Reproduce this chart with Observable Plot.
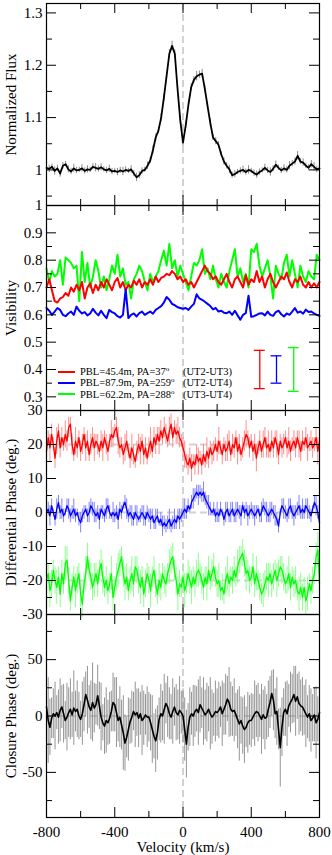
<!DOCTYPE html>
<html><head><meta charset="utf-8">
<script src="https://cdn.jsdelivr.net/npm/d3@7"></script>
<script src="https://cdn.jsdelivr.net/npm/@observablehq/plot@0.6"></script>
<style>
body{margin:0;background:#fff;}
#chart{position:relative;width:332px;height:855px;font-family:"Liberation Serif","Times New Roman",serif;}
#chart svg{display:block;overflow:visible;}
.legend{position:absolute;left:58px;top:366px;font-size:10.5px;color:#000;}
.legend .row{display:flex;align-items:center;height:11.3px;white-space:nowrap;}
.legend .sw{display:inline-block;width:17px;height:2px;margin-right:5px;}
.legend .a{display:inline-block;width:103px;}
.legend sup{font-size:7px;vertical-align:4px;line-height:0;}
</style></head><body><div id="chart"></div><script>
// ---------- data ----------
const fluxVel = d3.range(-800, 801, 16);
const flux = [
1.004,1.002,1.006,0.998,1.003,0.993,1.008,1.011,1.001,0.997,
1.003,0.999,1.000,1.003,0.998,1.001,1.000,1.006,1.004,1.002,
1.005,1.001,0.999,1.002,0.997,0.998,0.996,0.999,0.997,1.000,
0.998,1.001,0.993,0.986,0.990,0.998,1.000,1.008,1.018,1.038,
1.062,1.075,1.100,1.138,1.180,1.222,1.237,1.222,1.155,1.095,
1.052,1.085,1.125,1.158,1.172,1.179,1.182,1.184,1.155,1.122,
1.090,1.062,1.055,1.048,1.030,1.016,1.008,1.001,0.990,0.992,
0.996,0.998,1.000,0.996,1.000,0.998,0.994,0.991,0.996,0.999,
1.004,0.999,0.996,1.002,1.010,1.004,0.999,1.003,1.000,1.008,
1.012,1.016,1.027,1.016,1.014,1.008,1.004,1.011,1.006,1.001,
1.003];
const fluxErr = [
0.006,0.007,0.005,0.008,0.006,0.007,0.006,0.005,0.007,0.006,
0.008,0.006,0.005,0.007,0.006,0.007,0.005,0.006,0.008,0.006,
0.007,0.005,0.006,0.007,0.006,0.005,0.007,0.006,0.008,0.006,
0.005,0.007,0.006,0.008,0.007,0.006,0.005,0.007,0.006,0.008,
0.007,0.006,0.008,0.007,0.006,0.008,0.009,0.007,0.006,0.008,
0.007,0.006,0.008,0.007,0.006,0.009,0.007,0.008,0.006,0.007,
0.008,0.006,0.007,0.006,0.005,0.007,0.006,0.008,0.006,0.007,
0.005,0.006,0.007,0.006,0.008,0.005,0.006,0.007,0.006,0.005,
0.007,0.006,0.008,0.006,0.007,0.005,0.006,0.007,0.006,0.008,
0.006,0.007,0.008,0.006,0.007,0.005,0.006,0.007,0.008,0.006,
0.007];

const visVel = d3.range(-800, 801, 16);
const visR = [
0.70,0.73,0.69,0.65,0.645,0.66,0.665,0.68,0.67,0.70,
0.685,0.71,0.69,0.72,0.66,0.70,0.715,0.68,0.71,0.69,
0.72,0.70,0.73,0.71,0.69,0.72,0.735,0.70,0.72,0.69,
0.71,0.70,0.725,0.71,0.73,0.70,0.72,0.71,0.73,0.71,
0.74,0.72,0.735,0.74,0.75,0.745,0.76,0.75,0.73,0.74,
0.72,0.73,0.71,0.72,0.70,0.72,0.74,0.76,0.78,0.76,
0.75,0.73,0.74,0.72,0.71,0.73,0.75,0.72,0.70,0.73,
0.74,0.72,0.70,0.745,0.71,0.73,0.72,0.76,0.72,0.74,
0.70,0.73,0.75,0.72,0.70,0.72,0.74,0.73,0.755,0.72,
0.70,0.73,0.72,0.74,0.71,0.70,0.72,0.70,0.715,0.70,
0.72];
const visB = [
0.625,0.615,0.600,0.612,0.625,0.618,0.600,0.595,0.605,0.612,
0.600,0.630,0.615,0.605,0.610,0.598,0.605,0.622,0.608,0.598,
0.615,0.600,0.588,0.618,0.610,0.605,0.595,0.590,0.600,0.693,
0.588,0.600,0.605,0.594,0.606,0.612,0.600,0.606,0.612,0.604,
0.618,0.625,0.632,0.645,0.665,0.655,0.640,0.635,0.628,0.625,
0.622,0.625,0.618,0.630,0.640,0.675,0.660,0.655,0.648,0.640,
0.632,0.620,0.625,0.612,0.615,0.608,0.606,0.612,0.600,0.615,
0.598,0.582,0.600,0.606,0.670,0.593,0.595,0.600,0.605,0.606,
0.598,0.612,0.600,0.596,0.610,0.615,0.602,0.594,0.605,0.600,
0.612,0.625,0.608,0.612,0.604,0.619,0.610,0.612,0.605,0.600,
0.596];
const visG = [
0.77,0.72,0.76,0.74,0.75,0.80,0.71,0.81,0.80,0.79,
0.77,0.78,0.65,0.83,0.72,0.79,0.70,0.74,0.80,0.76,
0.70,0.74,0.69,0.73,0.78,0.75,0.82,0.74,0.77,0.71,
0.72,0.66,0.73,0.75,0.78,0.76,0.72,0.69,0.75,0.72,
0.74,0.76,0.80,0.835,0.78,0.86,0.77,0.80,0.74,0.78,
0.75,0.72,0.69,0.74,0.79,0.78,0.80,0.84,0.75,0.77,
0.73,0.78,0.73,0.70,0.75,0.72,0.70,0.76,0.80,0.84,
0.74,0.77,0.72,0.75,0.70,0.84,0.83,0.86,0.78,0.74,
0.77,0.80,0.74,0.66,0.78,0.75,0.73,0.79,0.82,0.74,
0.80,0.75,0.70,0.78,0.74,0.72,0.76,0.74,0.73,0.82,
0.80];
const errSampleV = [450, 548, 649];
const errSampleHalf = [0.07, 0.05, 0.08];
const errSampleCenter = 0.40;

const phaseVel = d3.range(-800, 801, 10);
const dPhiR = [
18,22,19,23,20,16,21,24,19,22, 20,23,21,25,26,20,17,21,19,22,
18,20,23,19,21,17,20,22,19,21, 20,18,21,19,22,20,18,21,23,22,
24,25,21,19,20,17,19,21,18,16, 19,17,15,18,20,18,21,17,19,16,
19,21,18,22,20,23,21,24,22,25, 23,21,24,26,22,25,23,24,22,21,
19,17,15,14,16,13,15,14,17,15, 16,14,17,15,18,16,19,17,18,20,
18,21,19,17,20,18,19,21,17,20, 19,22,18,20,17,19,21,23,22,19,
21,18,20,16,19,21,18,20,22,19, 20,18,21,19,22,20,17,21,19,20,
22,19,21,18,20,21,19,22,20,18, 21,20,22,19,20,21,19,20,22,18,21];
const dPhiB = [
0,1,-1,2,0,-2,1,3,0,1, -1,0,2,1,-1,0,1,-1,0,-2,
-3,-1,0,1,-1,0,2,1,0,-1, 0,-2,1,0,-1,1,2,0,-1,0,
-1,0,-2,1,0,2,3,1,-1,0, -1,-2,0,-1,-2,-1,0,-1,-2,0,
-1,-2,-1,-3,-2,-1,-3,-2,-4,-3, -4,-3,-2,-4,-3,-2,-3,-1,-2,-1,
0,1,0,2,1,3,4,5,6,5, 6,5,6,4,3,2,1,0,1,-1,
0,-1,1,0,-2,0,1,-1,0,1, -1,0,1,0,-1,2,0,1,-1,0,
1,0,-1,0,1,-1,0,2,1,0, -1,0,1,0,-1,-2,-4,0,2,1,
0,-1,1,2,0,-1,0,1,2,0, 1,0,2,1,0,-1,1,3,2,0,-3];
const dPhiG = [
-20,-18,-23,-21,-17,-20,-22,-19,-24,-18, -21,-15,-14,-20,-26,-22,-19,-23,-20,-18,
-24,-27,-21,-18,-13,-17,-19,-22,-20,-18, -21,-17,-15,-19,-22,-20,-23,-21,-18,-25,
-22,-19,-17,-15,-13,-18,-21,-19,-23,-20, -18,-21,-16,-17,-20,-22,-19,-24,-21,-18,
-20,-23,-19,-17,-21,-24,-20,-22,-18,-20, -21,-18,-16,-14,-13,-17,-20,-24,-21,-22,
-19,-23,-21,-18,-20,-22,-19,-21,-18,-17, -18,-20,-22,-19,-21,-17,-20,-18,-16,-19,
-21,-20,-23,-22,-24,-20,-18,-21,-19,-20, -17,-19,-16,-14,-13,-12,-15,-18,-17,-20,
-19,-16,-21,-18,-20,-22,-24,-23,-21,-19, -20,-18,-21,-19,-17,-20,-18,-16,-17,-19,
-21,-20,-18,-22,-19,-21,-20,-23,-24,-22, -25,-22,-26,-24,-21,-23,-20,-18,-13,-11,-21];
const dPhiErrR = [
3,2,4,3,2,3,4,2,3,3, 2,4,3,3,2,3,2,4,3,2, 3,3,2,4,3,2,3,3,4,2, 3,2,3,4,2,3,3,2,4,3,
2,3,4,3,2,3,4,3,2,3, 4,3,2,3,3,4,2,3,3,2, 3,4,2,3,3,2,4,3,2,3, 3,2,4,3,3,2,3,4,3,2,
3,4,2,3,3,4,2,3,3,4, 2,3,3,2,4,3,2,3,3,2, 3,4,2,3,2,3,4,3,2,3, 3,2,4,3,2,3,3,4,2,3,
2,3,3,4,2,3,2,4,3,3, 4,2,3,3,2,4,3,2,3,3, 2,3,4,3,2,3,3,2,4,3, 3,2,3,4,2,3,3,2,3,4,3];
const dPhiErrB = [
2,2,3,2,1,2,3,2,2,3, 2,1,2,3,2,2,3,2,1,2, 3,2,2,1,2,3,2,2,3,2, 2,3,1,2,2,3,2,2,1,3,
2,2,3,2,2,1,2,3,2,2, 3,2,2,3,1,2,2,3,2,2, 2,3,2,2,3,2,1,2,3,2, 2,2,3,2,2,3,2,2,3,2,
2,3,2,2,1,2,3,2,2,3, 2,2,3,2,2,3,2,1,2,2, 3,2,2,1,2,3,2,2,3,2, 2,3,2,2,3,1,2,2,3,2,
2,2,3,2,1,2,3,2,2,3, 2,3,2,2,3,2,2,1,2,3, 2,2,3,2,2,3,2,2,3,2, 3,2,2,3,2,2,1,2,3,2,3];
const dPhiErrG = [
4,3,5,4,3,4,5,3,4,4, 3,5,4,4,3,4,3,5,4,3, 4,4,3,5,4,3,4,4,5,3, 4,3,4,5,3,4,4,3,5,4,
3,4,5,4,3,4,5,4,3,4, 5,4,3,4,4,5,3,4,4,3, 4,5,3,4,4,3,5,4,3,4, 4,3,5,4,4,3,4,5,4,3,
4,5,3,4,4,5,3,4,4,5, 3,4,4,3,5,4,3,4,4,3, 4,5,3,4,3,4,5,4,3,4, 4,3,5,4,3,4,4,5,3,4,
3,4,4,5,3,4,3,5,4,4, 5,3,4,4,3,5,4,3,4,4, 3,4,5,4,3,4,4,3,5,4, 4,3,4,5,3,4,4,3,4,5,4];
const phaseGuides = [20, 0, -20];

const cPhi = [
8,-4,-10,-2,2,0,3,-1,5,8, 2,-4,-1,3,6,1,7,4,6,0,
-3,2,10,19,14,8,5,12,7,10, 18,9,-1,-6,-9,-4,-6,-2,4,12,
10,3,-4,-1,-8,-15,-24,-19,-12,-5, -1,4,1,3,-2,2,-4,-2,1,-1,
-1,-6,-12,-18,-22,-15,-3,2,0,6, 11,8,2,-1,4,8,3,1,5,3,
0,-12,-25,-10,-1,2,0,4,6,3, 10,7,4,1,3,6,2,-1,1,4,
3,5,8,2,6,10,15,12,6,4, 5,1,-3,-7,-4,-9,-12,-10,-6,-4,
-4,-1,2,4,3,0,-3,1,-2,-1, 6,12,20,14,2,4,-12,-28,-10,3,
6,2,9,12,15,19,13,17,11,9, 8,5,2,-1,2,-4,-2,1,-6,-3,3];
const cPhiErr = [
20,38,25,18,22,30,15,24,28,19, 26,17,30,22,27,20,33,18,25,21, 16,28,24,20,30,19,26,35,22,18,
27,21,30,16,25,29,20,23,18,26, 24,31,19,27,22,33,25,18,28,20, 23,17,29,21,26,19,31,24,18,27,
22,25,30,20,28,24,19,26,22,31, 18,27,23,20,29,17,25,22,30,19, 24,28,30,21,26,19,27,23,20,29,
25,18,30,22,26,20,32,24,19,27, 21,25,18,29,23,27,20,31,24,22, 28,19,26,33,21,25,30,18,27,22,
24,20,29,23,26,19,31,22,28,20, 25,23,20,27,22,30,18,35,26,21, 24,29,19,27,22,25,31,20,28,23,
26,22,30,19,25,28,21,24,32,20,26];
const cPhiGuides = [0];

const seriesColors = ["#ff0000", "#0000ff", "#00ff00"];
const errColors = ["#ff8c8c", "#8282ff", "#8cff8c"];
const baselineLabels = ["PBL=45.4m, PA=37", "PBL=87.9m, PA=259", "PBL=62.2m, PA=288"];
const telescopePairs = ["(UT2-UT3)", "(UT2-UT4)", "(UT3-UT4)"];
const panelTitles = ["Normalized Flux", "Visibility", "Differential Phase (deg.)", "Closure Phase (deg.)"];
const xLabels = [-800, -400, 0, 400, 800];
const xMajor = [-400, 0, 400];
const xMinor = [-600, -200, 200, 600];
const zeroVel = [0];

// ---------- helpers ----------
const W = 332, ML = 46, MR = 13, PW = W - ML - MR;
const FONT = '"Liberation Serif","Times New Roman",serif';
const rows = (vel, ys, es) => ys.map((y, i) => ({v: vel[i], y, e: es ? es[i] : 0}));
const fmtDec = d => d === 1 ? "1" : d.toFixed(1);
const fmtInt = d => String(d);

function panel(o) {
  const mt = o.marginTop || 0, mb = o.marginBottom || 0;
  const PH = o.height - mt - mb;
  const L = 10, S = 6;
  const marks = [
    Plot.ruleX(zeroVel, {x: d => d, stroke: "#d2d2d2", strokeWidth: 2, strokeDasharray: "7,4"}),
    Plot.ruleY(o.guides || [], {y: d => d, stroke: "#d2d2d2", strokeWidth: 2, strokeDasharray: "7,4"}),
    ...o.marks,
    Plot.tickY(o.yMajor, {y: d => d, insetRight: PW - L, stroke: "black"}),
    Plot.tickY(o.yMajor, {y: d => d, insetLeft: PW - L, stroke: "black"}),
    Plot.tickY(o.yMinor, {y: d => d, insetRight: PW - S, stroke: "black"}),
    Plot.tickY(o.yMinor, {y: d => d, insetLeft: PW - S, stroke: "black"}),
    Plot.tickX(xMajor, {x: d => d, insetBottom: PH - L, stroke: "black"}),
    Plot.tickX(xMajor, {x: d => d, insetTop: PH - L, stroke: "black"}),
    Plot.tickX(xMinor, {x: d => d, insetBottom: PH - S, stroke: "black"}),
    Plot.tickX(xMinor, {x: d => d, insetTop: PH - S, stroke: "black"}),
    Plot.frame({stroke: "black", strokeWidth: 1.2}),
    Plot.axisY({ticks: o.yLabels, tickSize: 0, tickPadding: 4, tickFormat: o.fmt, fontSize: 15, label: null}),
    Plot.text([o.title], {frameAnchor: "left", textAnchor: "middle", lineAnchor: "middle", rotate: -90, dx: -35, text: d => d, fontSize: 15, fill: "black"})
  ];
  if (o.xAxis) {
    marks.push(Plot.axisX({ticks: xLabels, tickSize: 0, tickPadding: 9, tickFormat: fmtInt, fontSize: 15, label: null}));
    marks.push(Plot.text(["Velocity (km/s)"], {frameAnchor: "bottom", textAnchor: "middle", dy: 30, text: d => d, fontSize: 15, fill: "black", lineAnchor: "middle"}));
  }
  return Plot.plot({
    width: W, height: o.height, marginLeft: ML, marginRight: MR, marginTop: mt, marginBottom: mb,
    x: o.xAxis ? {domain: [-800, 800]} : {domain: [-800, 800], axis: null},
    y: {domain: o.yDomain},
    style: {fontFamily: FONT, fontSize: "15px", overflow: "visible", background: "transparent", color: "black"},
    marks
  });
}

const errMarks = (data, color, w) => Plot.ruleX(data, {x: "v", y1: d => d.y - d.e, y2: d => d.y + d.e, stroke: color, strokeWidth: w});

// ---------- panel 1: flux ----------
const fluxData = rows(fluxVel, flux, fluxErr);
const p1 = panel({
  height: 205, marginTop: 3, yDomain: [0.932, 1.318],
  yMajor: [1.0, 1.1, 1.2, 1.3], yMinor: [0.95, 1.05, 1.15, 1.25], yLabels: [1.0, 1.1, 1.2, 1.3], fmt: fmtDec,
  title: panelTitles[0],
  marks: [
    errMarks(fluxData, "#8a8a8a", 1),
    Plot.line(fluxData, {x: "v", y: "y", stroke: "black", strokeWidth: 1.8})
  ]
});

// ---------- panel 2: visibility ----------
const visSets = [visR, visB, visG].map(a => rows(visVel, a));
const sampleMarks = [];
errSampleV.forEach((v, i) => {
  const d = [{v, lo: errSampleCenter - errSampleHalf[i], hi: errSampleCenter + errSampleHalf[i]}];
  sampleMarks.push(Plot.ruleX(d, {x: "v", y1: "lo", y2: "hi", stroke: seriesColors[i], strokeWidth: 1.3}));
  sampleMarks.push(Plot.ruleY(d, {y: "lo", x1: e => e.v - 32, x2: e => e.v + 32, stroke: seriesColors[i], strokeWidth: 1.3}));
  sampleMarks.push(Plot.ruleY(d, {y: "hi", x1: e => e.v - 32, x2: e => e.v + 32, stroke: seriesColors[i], strokeWidth: 1.3}));
});
const p2 = panel({
  height: 205, yDomain: [0.25, 1.0],
  yMajor: [0.3, 0.4, 0.5, 0.6, 0.7, 0.8, 0.9, 1.0], yMinor: [0.35, 0.45, 0.55, 0.65, 0.75, 0.85, 0.95],
  yLabels: [0.3, 0.4, 0.5, 0.6, 0.7, 0.8, 0.9, 1.0], fmt: fmtDec,
  title: panelTitles[1],
  marks: [
    Plot.line(visSets[2], {x: "v", y: "y", stroke: seriesColors[2], strokeWidth: 2}),
    Plot.line(visSets[0], {x: "v", y: "y", stroke: seriesColors[0], strokeWidth: 2}),
    Plot.line(visSets[1], {x: "v", y: "y", stroke: seriesColors[1], strokeWidth: 2}),
    ...sampleMarks
  ]
});

// ---------- panel 3: differential phase ----------
const dSets = [
  rows(phaseVel, dPhiR, dPhiErrR),
  rows(phaseVel, dPhiB, dPhiErrB),
  rows(phaseVel, dPhiG, dPhiErrG)
];
const p3 = panel({
  height: 204, yDomain: [-30, 30], guides: phaseGuides,
  yMajor: [-30, -20, -10, 0, 10, 20, 30], yMinor: [-25, -15, -5, 5, 15, 25],
  yLabels: [-30, -20, -10, 0, 10, 20, 30], fmt: fmtInt,
  title: panelTitles[2],
  marks: [
    ...dSets.map((d, i) => errMarks(d, errColors[i], 1)),
    ...dSets.map((d, i) => Plot.line(d, {x: "v", y: "y", stroke: seriesColors[i], strokeWidth: 1.3}))
  ]
});

// ---------- panel 4: closure phase ----------
const cData = rows(phaseVel, cPhi, cPhiErr);
const p4 = panel({
  height: 241, marginBottom: 38, yDomain: [-90, 90], guides: cPhiGuides,
  yMajor: [-50, 0, 50], yMinor: [-75, -25, 25, 75], yLabels: [-50, 0, 50], fmt: fmtInt,
  title: panelTitles[3], xAxis: true,
  marks: [
    errMarks(cData, "#7a7a7a", 0.8),
    Plot.line(cData, {x: "v", y: "y", stroke: "black", strokeWidth: 1.6})
  ]
});

const chart = document.getElementById("chart");
[p1, p2, p3, p4].forEach(p => chart.appendChild(p));

// ---------- legend ----------
const leg = document.createElement("div");
leg.className = "legend";
baselineLabels.forEach((lab, i) => {
  const r = document.createElement("div");
  r.className = "row";
  r.innerHTML = `<span class="sw" style="background:${seriesColors[i]}"></span><span class="a">${lab}<sup>o</sup></span><span>${telescopePairs[i]}</span>`;
  leg.appendChild(r);
});
chart.appendChild(leg);
</script></body></html>
